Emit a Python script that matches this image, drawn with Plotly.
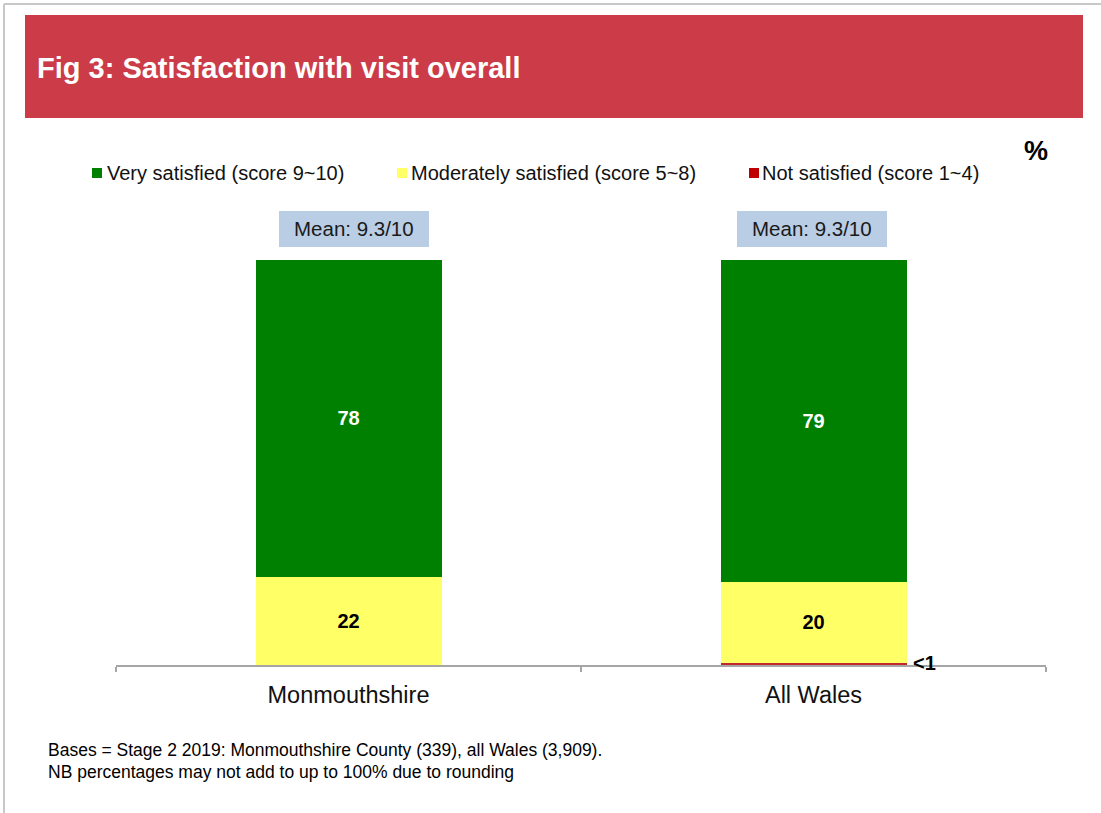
import plotly.graph_objects as go

# ---- data ----
categories = ["Monmouthshire", "All Wales"]
very_satisfied = [78.2, 79.5]
moderately_satisfied = [21.8, 20.0]
not_satisfied = [0.0, 0.5]
very_labels = ["78", "79"]
moderately_labels = ["22", "20"]
not_labels = ["", "<1"]
mean_labels = ["Mean: 9.3/10", "Mean: 9.3/10"]
series_names = ["Very satisfied (score 9~10)",
                "Moderately satisfied (score 5~8)",
                "Not satisfied (score 1~4)"]
colors = ["#008000", "#FFFF66", "#C0282D"]
legend_colors = ["#008000", "#FFFF66", "#C00000"]

W, H = 1101, 813
L, R, T, B = 116, 55, 260, 148
PW = W - L - R
PH = H - T - B


def px(x):
    return (x - L) / PW


def py(y):
    return (H - B - y) / PH


FONT = "Liberation Sans, Arial, sans-serif"

fig = go.Figure()
# stacked bottom to top: not satisfied, moderately, very
fig.add_bar(x=categories, y=not_satisfied, name=series_names[2],
            marker=dict(color=colors[2], line=dict(width=0)),
            textposition="none", width=0.4)
fig.add_bar(x=categories, y=moderately_satisfied, name=series_names[1],
            marker=dict(color=colors[1], line=dict(width=0)),
            text=moderately_labels, texttemplate="<b>%{text}</b>",
            textposition="inside", insidetextanchor="middle",
            textfont=dict(color="black", size=20, family=FONT), width=0.4)
fig.add_bar(x=categories, y=very_satisfied, name=series_names[0],
            marker=dict(color=colors[0], line=dict(width=0)),
            text=very_labels, texttemplate="<b>%{text}</b>",
            textposition="inside", insidetextanchor="middle",
            textfont=dict(color="white", size=20, family=FONT), width=0.4)

shapes = []
annotations = []

# frame lines
shapes.append(dict(type="line", xref="paper", yref="paper",
                   x0=px(4), x1=px(1101), y0=py(4), y1=py(4),
                   line=dict(color="#C8C8C8", width=2)))
shapes.append(dict(type="line", xref="paper", yref="paper",
                   x0=px(4), x1=px(4), y0=py(4), y1=py(813),
                   line=dict(color="#C8C8C8", width=2)))
# title banner
shapes.append(dict(type="rect", xref="paper", yref="paper",
                   x0=px(25), x1=px(1083), y0=py(15), y1=py(118),
                   fillcolor="#CB3C48", line=dict(width=0), layer="below"))
annotations.append(dict(xref="paper", yref="paper", x=px(35), y=py(68),
                        xanchor="left", yanchor="middle", showarrow=False,
                        text="<b>Fig 3: Satisfaction with visit overall</b>",
                        font=dict(family=FONT, size=29, color="white")))
# percent sign
annotations.append(dict(xref="paper", yref="paper", x=px(1036), y=py(151),
                        xanchor="center", yanchor="middle", showarrow=False,
                        text="<b>%</b>",
                        font=dict(family=FONT, size=27, color="black")))
# manual legend
leg_sq_x = [92, 397, 749]
leg_txt_x = [107, 411, 762]
for i in range(3):
    shapes.append(dict(type="rect", xref="paper", yref="paper",
                       x0=px(leg_sq_x[i]), x1=px(leg_sq_x[i] + 10),
                       y0=py(168), y1=py(178),
                       fillcolor=legend_colors[i], line=dict(width=0)))
    annotations.append(dict(xref="paper", yref="paper", x=px(leg_txt_x[i] - 2),
                            y=py(173), xanchor="left", yanchor="middle",
                            showarrow=False, text=series_names[i],
                            font=dict(family=FONT, size=20, color="#111111")))
# mean boxes
box_centers = [354, 812]
for i in range(2):
    c = box_centers[i]
    shapes.append(dict(type="rect", xref="paper", yref="paper",
                       x0=px(c - 75), x1=px(c + 75), y0=py(211), y1=py(247),
                       fillcolor="#B9CDE5", line=dict(width=0)))
    annotations.append(dict(xref="paper", yref="paper", x=px(c), y=py(229),
                            xanchor="center", yanchor="middle", showarrow=False,
                            text=mean_labels[i],
                            font=dict(family=FONT, size=20.5, color="#1A1A1A")))
# "<1" label for tiny bar
annotations.append(dict(xref="paper", yref="paper", x=px(911), y=py(663),
                        xanchor="left", yanchor="middle", showarrow=False,
                        text="<b>" + not_labels[1] + "</b>",
                        font=dict(family=FONT, size=20, color="black")))
# footnotes
annotations.append(dict(xref="paper", yref="paper", x=px(46), y=py(750),
                        xanchor="left", yanchor="middle", showarrow=False,
                        text="Bases = Stage 2 2019: Monmouthshire County (339), all Wales (3,909).",
                        font=dict(family=FONT, size=17.5, color="black")))
annotations.append(dict(xref="paper", yref="paper", x=px(46), y=py(772),
                        xanchor="left", yanchor="middle", showarrow=False,
                        text="NB percentages may not add to up to 100% due to rounding",
                        font=dict(family=FONT, size=17.5, color="black")))

fig.update_layout(
    width=W, height=H,
    margin=dict(l=L, r=R, t=T, b=B, pad=0),
    barmode="stack",
    showlegend=False,
    plot_bgcolor="white",
    paper_bgcolor="white",
    font=dict(family=FONT),
    shapes=shapes,
    annotations=annotations,
    xaxis=dict(showline=True, linecolor="#A6A6A6", linewidth=1.5,
               ticks="outside", tickson="boundaries", ticklen=5,
               tickcolor="#A6A6A6", tickwidth=1.5, ticklabelstandoff=8,
               tickfont=dict(family=FONT, size=23.5, color="#111111"),
               showgrid=False, zeroline=False),
    yaxis=dict(range=[0, 100], visible=False, showgrid=False, zeroline=False),
)

fig.write_html("out.html", config={"displayModeBar": False},
               post_script="document.body.style.margin='0';")
